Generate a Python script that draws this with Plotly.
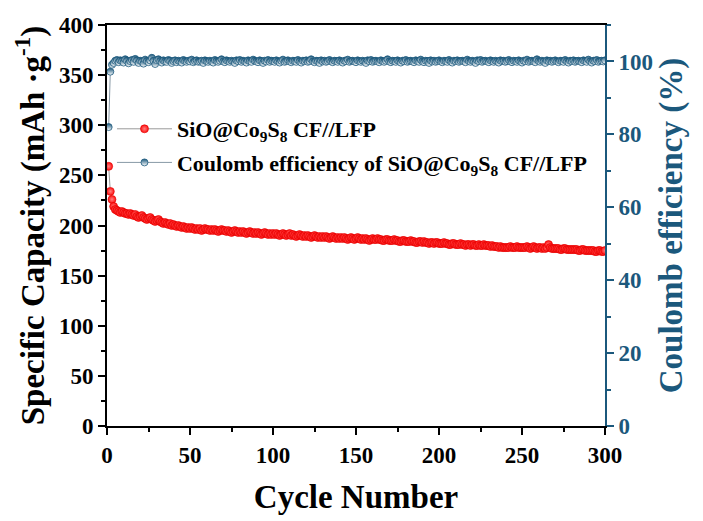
import plotly.graph_objects as go

cycles = list(range(1, 301))

capacity = [
    259, 234, 226, 219, 216, 215, 214, 213, 214, 213,
    212, 212, 211, 212, 211, 210, 211, 209, 208, 209,
    210, 208, 207, 206, 207, 208, 206, 205, 204, 205,
    206, 204, 203, 202, 203, 202, 201, 202, 200, 201,
    200, 199, 200, 199, 198, 199, 198, 197, 198, 197,
    198, 197, 196, 197, 196, 197, 195, 196, 197, 196,
    196, 195, 196, 195, 196, 195, 194, 195, 196, 195,
    195, 194, 195, 194, 193, 194, 195, 194, 193, 194,
    193, 194, 193, 192, 193, 194, 193, 192, 193, 192,
    193, 192, 191, 192, 193, 192, 191, 192, 191, 192,
    191, 192, 191, 190, 191, 192, 191, 190, 191, 192,
    190, 191, 190, 189, 190, 191, 190, 189, 190, 189,
    190, 189, 188, 189, 190, 189, 188, 189, 188, 189,
    188, 189, 188, 187, 188, 189, 188, 187, 188, 187,
    188, 187, 188, 187, 186, 187, 188, 187, 186, 187,
    188, 187, 186, 187, 186, 187, 186, 185, 186, 187,
    186, 186, 187, 186, 186, 185, 185, 186, 186, 185,
    185, 185, 186, 185, 185, 184, 184, 185, 185, 184,
    184, 184, 185, 184, 184, 183, 183, 184, 184, 183,
    184, 183, 183, 182, 183, 183, 182, 183, 183, 182,
    182, 182, 183, 182, 182, 181, 181, 182, 182, 181,
    181, 181, 182, 181, 181, 180, 181, 181, 180, 181,
    181, 180, 180, 181, 180, 180, 181, 180, 180, 180,
    179, 180, 179, 179, 179, 178, 179, 178, 178, 178,
    178, 178, 179, 178, 178, 178, 179, 178, 178, 178,
    178, 178, 179, 178, 177, 178, 179, 178, 177, 178,
    178, 177, 178, 177, 178, 181, 178, 177, 177, 177,
    177, 177, 176, 176, 177, 177, 176, 176, 176, 176,
    176, 176, 176, 175, 175, 176, 176, 175, 175, 175,
    175, 175, 175, 174, 174, 175, 175, 174, 174, 175,
]

efficiency = [
    82.0, 97.2, 99.1, 99.6, 100.2, 100.4, 99.8, 100.3, 100.1, 99.7,
    100.6, 100.2, 99.5, 100.1, 100.4, 99.9, 100.7, 100.3, 99.6, 100.2,
    100.0, 99.4, 100.5, 100.1, 99.8, 100.3, 101.0, 100.2, 99.3, 100.4,
    100.6, 100.1, 99.7, 100.3, 100.0, 99.9, 100.4, 100.2, 99.6, 100.1,
    100.3, 99.8, 100.2, 100.0, 99.7, 100.4, 100.1, 99.9, 100.2, 100.0,
    100.5, 99.8, 100.1, 100.3, 99.9, 100.0, 100.2, 99.6, 100.3, 100.1,
    99.9, 100.2, 100.0, 99.7, 100.4, 100.1, 99.9, 100.2, 100.6, 100.0,
    99.8, 100.3, 100.1, 99.9, 100.2, 100.0, 99.6, 100.3, 100.1, 100.4,
    99.9, 100.2, 100.0, 99.7, 100.3, 100.1, 99.9, 100.5, 100.2, 100.0,
    99.8, 100.3, 100.1, 99.6, 100.2, 100.0, 100.4, 99.9, 100.2, 100.1,
    99.9, 100.3, 100.0, 99.7, 100.2, 100.5, 99.9, 100.1, 100.3, 100.0,
    99.8, 100.2, 100.1, 99.9, 100.4, 100.0, 99.7, 100.2, 100.1, 100.3,
    99.9, 100.1, 100.6, 100.0, 99.8, 100.2, 100.1, 99.6, 100.3, 100.0,
    100.2, 99.9, 100.1, 100.4, 100.0, 99.8, 100.2, 100.1, 99.9, 100.3,
    100.0, 99.7, 100.2, 100.1, 100.5, 99.9, 100.1, 100.2, 100.0, 99.8,
    100.3, 100.1, 99.9, 100.2, 100.0, 99.6, 100.3, 100.1, 100.4, 99.9,
    100.1, 100.2, 100.0, 99.8, 100.3, 100.1, 99.9, 100.2, 100.6, 100.0,
    99.8, 100.2, 100.1, 99.9, 100.3, 100.0, 99.7, 100.2, 100.1, 100.4,
    99.9, 100.1, 100.2, 100.0, 99.8, 100.3, 100.1, 99.9, 100.5, 100.0,
    99.8, 100.2, 100.1, 99.6, 100.3, 100.0, 100.2, 99.9, 100.1, 100.3,
    100.0, 99.8, 100.2, 100.1, 99.9, 100.4, 100.0, 99.7, 100.2, 100.1,
    100.3, 99.9, 100.1, 100.2, 100.0, 99.8, 100.5, 100.1, 99.9, 100.2,
    100.0, 99.6, 100.3, 100.1, 100.4, 99.9, 100.1, 100.2, 100.0, 99.8,
    100.3, 100.1, 99.9, 100.2, 100.0, 99.7, 100.3, 100.1, 100.2, 99.9,
    100.1, 100.4, 100.0, 99.8, 100.2, 100.1, 99.9, 100.3, 100.0, 99.7,
    100.2, 100.1, 100.5, 99.9, 100.1, 100.2, 100.0, 99.8, 100.6, 100.1,
    99.9, 100.2, 100.0, 99.6, 100.3, 100.1, 100.2, 99.9, 100.1, 100.3,
    100.0, 99.8, 100.2, 100.1, 99.9, 100.4, 100.0, 99.7, 100.2, 100.1,
    100.3, 99.9, 100.1, 100.2, 100.0, 99.8, 100.3, 100.1, 99.9, 100.5,
    100.0, 99.7, 100.2, 100.1, 100.4, 99.9, 100.1, 100.2, 100.0, 100.3,
]

x_ticks = [0, 50, 100, 150, 200, 250, 300]
y_ticks = [0, 50, 100, 150, 200, 250, 300, 350, 400]
y2_ticks = [0, 20, 40, 60, 80, 100]

BLUE = "#1b587c"
FONT = "Liberation Serif"
TICKSIZE = 23
TITLESIZE = 33


def bold(vals):
    return ["<b>%d</b>" % v for v in vals]


fig = go.Figure()
fig.add_trace(go.Scatter(
    x=cycles, y=capacity, mode="lines+markers",
    name="<b>SiO@Co<sub>9</sub>S<sub>8</sub> CF//LFP</b>",
    line=dict(color="#999999", width=1),
    marker=dict(symbol="circle", size=8, color="#ff1010",
                line=dict(color="#e00000", width=0.6),
                gradient=dict(type="radial", color="#ff8080")),
    legendgroup="a",
))
fig.add_trace(go.Scatter(
    x=cycles, y=efficiency, mode="lines+markers", yaxis="y2",
    name="<b>Coulomb efficiency of SiO@Co<sub>9</sub>S<sub>8</sub> CF//LFP</b>",
    line=dict(color="#8899a6", width=1),
    marker=dict(symbol="circle", size=7, color=BLUE,
                line=dict(color=BLUE, width=0.8),
                gradient=dict(type="vertical", color="white")),
    legendgroup="b",
))

fig.update_layout(
    width=703, height=521,
    margin=dict(l=107, r=98, t=25, b=93),
    paper_bgcolor="white", plot_bgcolor="white",
    font=dict(family=FONT, color="black"),
    showlegend=True,
    legend=dict(x=0.01, y=0.793, xanchor="left", yanchor="top",
                bgcolor="rgba(0,0,0,0)", font=dict(size=22, family=FONT),
                itemwidth=55, tracegroupgap=2, traceorder="grouped"),
    xaxis=dict(
        range=[0, 300], tickvals=x_ticks, ticktext=bold(x_ticks),
        ticks="outside", ticklen=7, tickwidth=2,
        tickcolor="black", showline=True, linecolor="black", linewidth=2,
        mirror=True, showgrid=False, zeroline=False,
        tickfont=dict(size=TICKSIZE, family=FONT),
        minor=dict(dtick=25, ticks="outside", ticklen=4, tickwidth=2, tickcolor="black"),
        title=dict(text="<b>Cycle Number</b>", font=dict(size=TITLESIZE, family=FONT), standoff=18),
    ),
    yaxis=dict(
        range=[0, 400], tickvals=y_ticks, ticktext=bold(y_ticks),
        ticks="outside", ticklen=7, tickwidth=2,
        tickcolor="black", showline=True, linecolor="black", linewidth=2,
        showgrid=False, zeroline=False,
        tickfont=dict(size=TICKSIZE, family=FONT),
        minor=dict(dtick=25, ticks="outside", ticklen=4, tickwidth=2, tickcolor="black"),
        title=dict(text="<b>Specific Capacity (mAh ·g<sup>-1</sup>)</b>",
                   font=dict(size=TITLESIZE, family=FONT), standoff=4),
    ),
    yaxis2=dict(
        range=[0, 110], tickvals=y2_ticks, ticktext=bold(y2_ticks),
        overlaying="y", side="right",
        ticks="outside", ticklen=7, tickwidth=2, tickcolor=BLUE,
        showline=True, linecolor=BLUE, linewidth=2, showgrid=False, zeroline=False,
        tickfont=dict(size=TICKSIZE, family=FONT, color=BLUE),
        minor=dict(dtick=10, ticks="outside", ticklen=4, tickwidth=2, tickcolor=BLUE),
        title=dict(text="<b>Coulomb efficiency (%)</b>",
                   font=dict(size=TITLESIZE, family=FONT, color=BLUE), standoff=6),
    ),
)

fig.write_html("out.html")
